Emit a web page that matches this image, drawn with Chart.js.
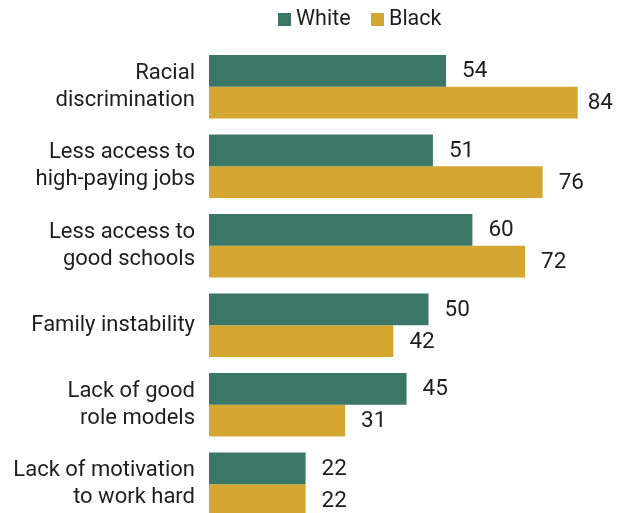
<!DOCTYPE html>
<html>
<head>
<meta charset="utf-8">
<script src="https://cdn.jsdelivr.net/npm/chart.js@4/dist/chart.umd.min.js"></script>
<style>
html,body{margin:0;padding:0;background:#fff;overflow:hidden;}
#wrap{width:621px;height:513px;overflow:hidden;}
</style>
</head>
<body>
<div id="wrap"><canvas id="c" width="621" height="524"></canvas></div>
<script>
const categories = [
  ["Racial", "discrimination"],
  ["Less access to", "high-paying jobs"],
  ["Less access to", "good schools"],
  ["Family instability"],
  ["Lack of good", "role models"],
  ["Lack of motivation", "to work hard"]
];
const seriesNames = ["White", "Black"];
const whiteValues = [54, 51, 60, 50, 45, 22];
const blackValues = [84, 76, 72, 42, 31, 22];

const FONT = "Roboto, 'Liberation Sans', sans-serif";
const colors = ["#3a7766", "#d3a732"];

const valueLabels = {
  id: 'valueLabels',
  afterDatasetsDraw(chart) {
    const ctx = chart.ctx;
    ctx.save();
    ctx.font = "22.5px " + FONT;
    ctx.fillStyle = "#1e1e1e";
    ctx.textBaseline = "middle";
    ctx.textAlign = "left";
    chart.data.datasets.forEach((ds, i) => {
      const meta = chart.getDatasetMeta(i);
      meta.data.forEach((el, j) => {
        const txt = String(ds.data[j]);
        const w = ctx.measureText(txt).width;
        let x = el.x + 16;
        if (x + w > 613) x = 613 - w;
        ctx.fillText(txt, x, el.y + 1);
      });
    });
    ctx.restore();
  }
};

const customLegend = {
  id: 'customLegend',
  afterDraw(chart) {
    const ctx = chart.ctx;
    ctx.save();
    ctx.font = "21.5px " + FONT;
    ctx.textBaseline = "middle";
    ctx.textAlign = "left";
    const starts = [278, 371];
    chart.data.datasets.forEach((ds, i) => {
      const x = starts[i];
      ctx.fillStyle = ds.backgroundColor;
      ctx.fillRect(x, 13, 13, 13);
      ctx.fillStyle = "#1e1e1e";
      ctx.fillText(ds.label, x + 18, 20);
    });
    ctx.restore();
  }
};

new Chart(document.getElementById('c'), {
  type: 'bar',
  data: {
    labels: categories,
    datasets: [
      { label: seriesNames[0], data: whiteValues, backgroundColor: colors[0] },
      { label: seriesNames[1], data: blackValues, backgroundColor: colors[1] }
    ]
  },
  options: {
    indexAxis: 'y',
    responsive: false,
    animation: false,
    devicePixelRatio: 1,
    layout: { padding: { top: 47, right: 0, bottom: 0, left: 0 } },
    datasets: { bar: { barPercentage: 1.0, categoryPercentage: 0.8, borderWidth: 0 } },
    plugins: {
      legend: { display: false },
      tooltip: { enabled: false }
    },
    scales: {
      x: {
        display: false,
        min: 0,
        max: 93.85
      },
      y: {
        grid: { display: false, drawTicks: false },
        border: { display: false },
        ticks: {
          color: "#1e1e1e",
          padding: 14,
          font: { family: FONT, size: 22, lineHeight: 1.23 }
        },
        afterFit(scale) {
          scale.width = 209;
          scale.paddingTop = 0;
          scale.paddingBottom = 0;
        }
      }
    }
  },
  plugins: [valueLabels, customLegend]
});
</script>
</body>
</html>
